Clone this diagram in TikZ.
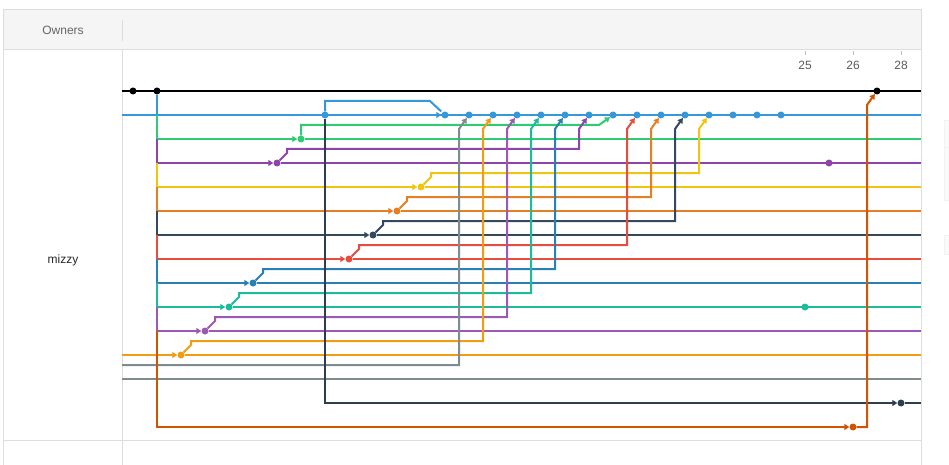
\documentclass[tikz,border=0pt]{standalone}
\usepackage{fontspec}
\setmainfont{Liberation Sans}
\usetikzlibrary{arrows.meta}

\definecolor{cblack}{HTML}{000000}
\definecolor{cblue}{HTML}{3498DB}
\definecolor{cgreen}{HTML}{2ECC71}
\definecolor{cpurple}{HTML}{8E44AD}
\definecolor{cyellow}{HTML}{F1C40F}
\definecolor{corange}{HTML}{E67E22}
\definecolor{cnavy}{HTML}{34495E}
\definecolor{cred}{HTML}{E74C3C}
\definecolor{cbluedark}{HTML}{2980B9}
\definecolor{cteal}{HTML}{1ABC9C}
\definecolor{camethyst}{HTML}{9B59B6}
\definecolor{camber}{HTML}{F39C12}
\definecolor{cgray}{HTML}{7F8C8D}
\definecolor{cmidnight}{HTML}{2C3E50}
\definecolor{cpumpkin}{HTML}{D35400}
\definecolor{tablegray}{HTML}{DDDDDD}
\definecolor{headfill}{HTML}{F5F5F5}

\begin{document}
\begin{tikzpicture}[x=1pt,y=-1pt]

\tikzstyle{commit}=[circle, inner sep=0pt, minimum size=7pt]
\tikzstyle{branch}=[line width=2pt]
\tikzstyle{merge}=[line width=2pt, -{Triangle[length=5pt,width=6pt]}]
\tikzstyle{tableline}=[draw=tablegray, line width=1pt]
\tikzstyle{txt}=[font=\fontsize{12}{14}\selectfont]

\useasboundingbox (0,0) rectangle (949,465);

% table
\fill[headfill] (3,10) rectangle (921,50);
\draw[tableline] (3,465) -- (3,10) -- (921,10) -- (921,465);
\draw[tableline] (3,50) -- (921,50);
\draw[tableline] (3,440) -- (921,440);
\draw[tableline] (122,20) -- (122,41);
\draw[tableline] (122,50) -- (122,465);
\draw[draw=black!5, fill=black!2] (944,120) rectangle (952,200);
\draw[draw=black!5] (944,147) -- (952,147);
\draw[draw=black!5, fill=black!2] (944,235) rectangle (952,254);

\node[txt, text=black!60] (owners) at (63,30) {Owners};
\node[txt, text=black!85] (mizzy) at (63,260) {mizzy};

\draw[draw=black!25, line width=0.8pt] (805,51) -- (805,55);
\draw[draw=black!25, line width=0.8pt] (853,51) -- (853,55);
\draw[draw=black!25, line width=0.8pt] (901,51) -- (901,55);
\node[txt, text=black!65] (d25) at (805,65) {25};
\node[txt, text=black!65] (d26) at (853,65) {26};
\node[txt, text=black!65] (d28) at (901,65) {28};

% commits
\node[commit, fill=cblack] (blk133) at (133,91) {};
\node[commit, fill=cblack] (blk157) at (157,91) {};
\node[commit, fill=cblack] (blk877) at (877,91) {};
\foreach \x in {325,445,469,...,781}
  \node[commit, fill=cblue] (blu\x) at (\x,115) {};
\node[commit, fill=cgreen] (grn301) at (301,139) {};
\node[commit, fill=cpurple] (pur277) at (277,163) {};
\node[commit, fill=cpurple] (pur829) at (829,163) {};
\node[commit, fill=cyellow] (yel421) at (421,187) {};
\node[commit, fill=corange] (org397) at (397,211) {};
\node[commit, fill=cnavy] (nav373) at (373,235) {};
\node[commit, fill=cred] (red349) at (349,259) {};
\node[commit, fill=cbluedark] (dbl253) at (253,283) {};
\node[commit, fill=cteal] (tea229) at (229,307) {};
\node[commit, fill=cteal] (tea805) at (805,307) {};
\node[commit, fill=camethyst] (ame205) at (205,331) {};
\node[commit, fill=camber] (amb181) at (181,355) {};
\node[commit, fill=cmidnight] (mid901) at (901,403) {};
\node[commit, fill=cpumpkin] (pum853) at (853,427) {};

% master and blue line
\draw[branch, cblack] (122,91) -- (921,91);
\draw[branch, cblue] (122,115) -- (921,115);
\draw[branch, cblue] (blk157) -- (157,115);
\draw[branch, cblue, shorten >=1.5pt] (blu325) -- (325,101) -- (430,101) -- (blu445);
\path (blu325) [merge, cblue] edge (blu445);

% green
\draw[merge, cgreen] (157,115) -- (157,139) -- (grn301);
\draw[branch, cgreen] (grn301) -- (921,139);
\draw[merge, cgreen] (grn301) -- (301,125) -- (599,125) -- (blu613);

% purple
\draw[merge, cpurple] (157,139) -- (157,163) -- (pur277);
\draw[branch, cpurple] (pur277) -- (921,163);
\draw[merge, cpurple] (pur277) -- (287,153) -- (287,149) -- (579,149) -- (579,129) -- (blu589);

% yellow
\draw[merge, cyellow] (157,163) -- (157,187) -- (yel421);
\draw[branch, cyellow] (yel421) -- (921,187);
\draw[merge, cyellow] (yel421) -- (431,177) -- (431,173) -- (699,173) -- (699,129) -- (blu709);

% orange
\draw[merge, corange] (157,187) -- (157,211) -- (org397);
\draw[branch, corange] (org397) -- (921,211);
\draw[merge, corange] (org397) -- (407,201) -- (407,197) -- (651,197) -- (651,129) -- (blu661);

% navy
\draw[merge, cnavy] (157,211) -- (157,235) -- (nav373);
\draw[branch, cnavy] (nav373) -- (921,235);
\draw[merge, cnavy] (nav373) -- (383,225) -- (383,221) -- (675,221) -- (675,129) -- (blu685);

% red
\draw[merge, cred] (157,235) -- (157,259) -- (red349);
\draw[branch, cred] (red349) -- (921,259);
\draw[merge, cred] (red349) -- (359,249) -- (359,245) -- (627,245) -- (627,129) -- (blu637);

% dark blue
\draw[merge, cbluedark] (157,259) -- (157,283) -- (dbl253);
\draw[branch, cbluedark] (dbl253) -- (921,283);
\draw[merge, cbluedark] (dbl253) -- (263,273) -- (263,269) -- (555,269) -- (555,129) -- (blu565);

% teal
\draw[merge, cteal] (157,283) -- (157,307) -- (tea229);
\draw[branch, cteal] (tea229) -- (921,307);
\draw[merge, cteal] (tea229) -- (239,297) -- (239,293) -- (531,293) -- (531,129) -- (blu541);

% amethyst
\draw[merge, camethyst] (157,307) -- (157,331) -- (ame205);
\draw[branch, camethyst] (ame205) -- (921,331);
\draw[merge, camethyst] (ame205) -- (215,321) -- (215,317) -- (507,317) -- (507,129) -- (blu517);

% amber
\draw[merge, camber] (122,355) -- (amb181);
\draw[branch, camber] (amb181) -- (921,355);
\draw[merge, camber] (amb181) -- (191,345) -- (191,341) -- (483,341) -- (483,129) -- (blu493);

% gray
\draw[merge, cgray] (122,365) -- (459,365) -- (459,129) -- (blu469);
\draw[branch, cgray] (122,379) -- (921,379);

% midnight
\draw[merge, cmidnight] (blu325) -- (325,403) -- (mid901);
\draw[branch, cmidnight] (mid901) -- (921,403);

% pumpkin
\draw[merge, cpumpkin] (157,331) -- (157,427) -- (pum853);
\draw[merge, cpumpkin] (pum853) -- (867,427) -- (867,105) -- (blk877);

\end{tikzpicture}
\end{document}
